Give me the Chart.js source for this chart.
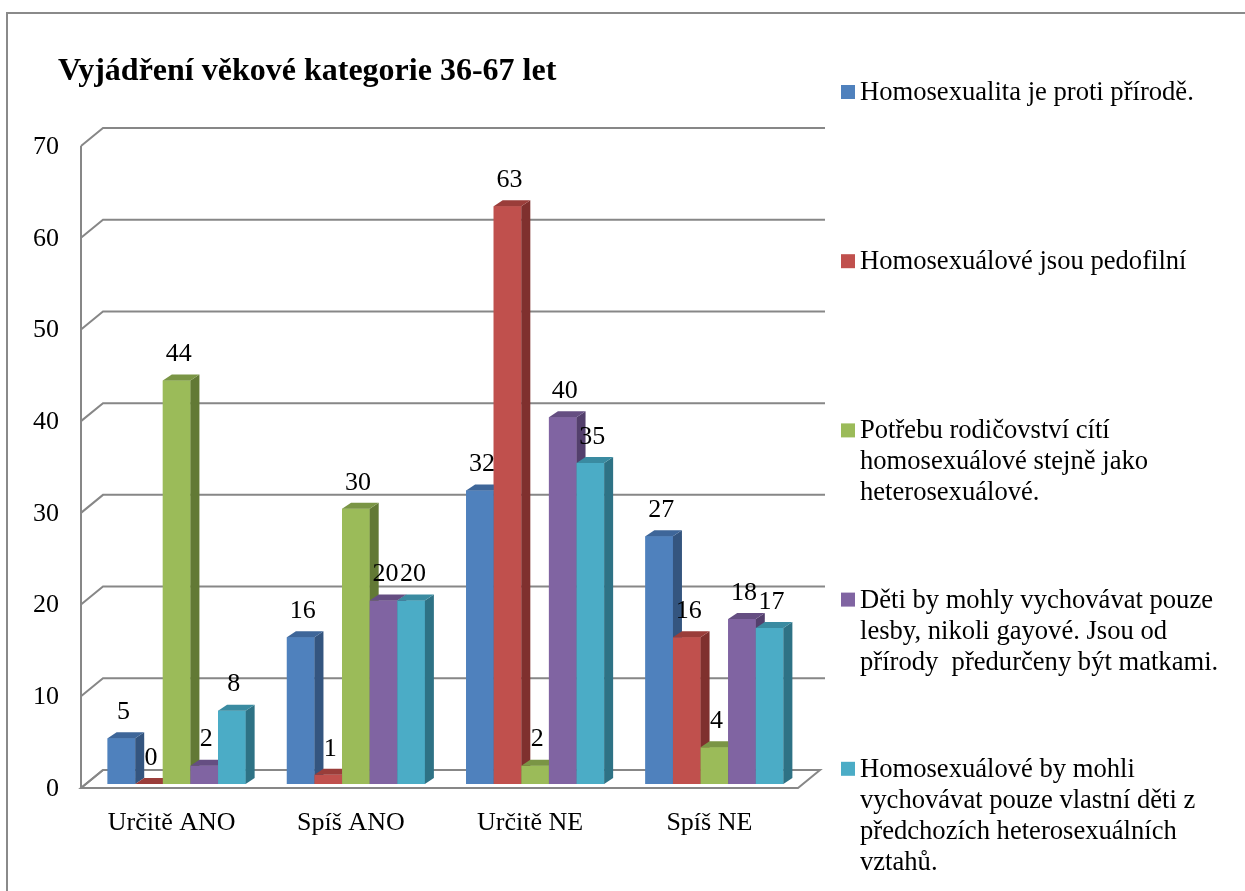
<!DOCTYPE html>
<html><head><meta charset="utf-8">
<script src="https://cdn.jsdelivr.net/npm/chart.js@4/dist/chart.umd.min.js"></script>
<style>html,body{margin:0;padding:0;background:#fff;}#wrap{width:1245px;height:891px;position:relative;}</style>
</head><body><div id="wrap"><canvas id="c" width="1245" height="891"></canvas></div>
<script>
const chartTitle = "Vyjádření věkové kategorie 36-67 let";
const categories = ["Určitě ANO", "Spíš ANO", "Určitě NE", "Spíš NE"];
const seriesNames = [
  "Homosexualita je proti přírodě.",
  "Homosexuálové jsou pedofilní",
  "Potřebu rodičovství cítí homosexuálové stejně jako heterosexuálové.",
  "Děti by mohly vychovávat pouze lesby, nikoli gayové. Jsou od přírody  předurčeny být matkami.",
  "Homosexuálové by mohli vychovávat pouze vlastní děti z předchozích heterosexuálních vztahů."
];
const legendLines = [
  ["Homosexualita je proti přírodě."],
  ["Homosexuálové jsou pedofilní"],
  ["Potřebu rodičovství cítí", "homosexuálové stejně jako", "heterosexuálové."],
  ["Děti by mohly vychovávat pouze", "lesby, nikoli gayové. Jsou od", "přírody  předurčeny být matkami."],
  ["Homosexuálové by mohli", "vychovávat pouze vlastní děti z", "předchozích heterosexuálních", "vztahů."]
];
const proti = [5, 16, 32, 27];
const pedofilni = [0, 1, 63, 16];
const rodicovstvi = [44, 30, 2, 4];
const lesby = [2, 20, 40, 18];
const vlastniDeti = [8, 20, 35, 17];
const yTicks = [0, 10, 20, 30, 40, 50, 60, 70];
const colors = ["#4F81BD", "#C0504D", "#9BBB59", "#8064A2", "#4BACC6"];
const topColors = ["#3E6699", "#9A3D3A", "#7A9545", "#654E82", "#3A8BA1"];
const sideColors = ["#34557F", "#7F302E", "#627935", "#533F6C", "#2E7285"];

const FONT = "'Liberation Serif', 'Times New Roman', serif";
const seriesValues = [proti, pedofilni, rodicovstvi, lesby, vlastniDeti];

const BAR_DX = 9, BAR_DY = -6;
const WALL_DX = 22, WALL_DY = -18;

const plugin3d = {
  id: 'plugin3d',
  beforeDraw(chart) {
    const ctx = chart.ctx;
    ctx.save();
    ctx.strokeStyle = '#8a8a8a';
    ctx.lineWidth = 2;
    ctx.beginPath();
    ctx.moveTo(7, 891); ctx.lineTo(7, 13); ctx.lineTo(1245, 13);
    ctx.stroke();
    ctx.fillStyle = '#000';
    ctx.font = "bold 32px " + FONT;
    ctx.textBaseline = 'middle';
    ctx.textAlign = 'left';
    ctx.fillText(chartTitle, 58, 72);
    ctx.restore();
  },
  beforeDatasetsDraw(chart) {
    const ctx = chart.ctx;
    const y = chart.scales.y;
    const a = chart.chartArea;
    const fl = a.left - 6, fr = a.right - 6;
    ctx.save();
    ctx.strokeStyle = '#878787';
    ctx.lineWidth = 2;
    const y0 = y.getPixelForValue(0) + 4;
    ctx.beginPath();
    ctx.moveTo(fl, y0);
    ctx.lineTo(fr, y0);
    ctx.lineTo(fr + WALL_DX, y0 + WALL_DY);
    ctx.lineTo(fl + WALL_DX, y0 + WALL_DY);
    ctx.closePath();
    ctx.fillStyle = '#fff';
    ctx.fill();
    ctx.stroke();
    yTicks.forEach(v => {
      const py = y.getPixelForValue(v) + 4;
      ctx.beginPath();
      ctx.moveTo(fl, py);
      ctx.lineTo(fl + WALL_DX, py + WALL_DY);
      if (v > 0) ctx.lineTo(fr + WALL_DX + 5, py + WALL_DY);
      ctx.stroke();
    });
    ctx.beginPath();
    ctx.moveTo(fl, y.getPixelForValue(70) + 4);
    ctx.lineTo(fl, y0);
    ctx.stroke();
    ctx.restore();
  },
  afterDatasetsDraw(chart) {
    const ctx = chart.ctx;
    const n = chart.data.labels.length;
    ctx.save();
    for (let j = 0; j < n; j++) {
      chart.data.datasets.forEach((ds, i) => {
        const el = chart.getDatasetMeta(i).data[j];
        el.draw(ctx, chart.chartArea);
        const p = el.getProps(['x', 'y', 'base', 'width'], true);
        const l = p.x - p.width / 2, r = p.x + p.width / 2;
        const top = Math.min(p.y, p.base), bot = Math.max(p.y, p.base);
        ctx.fillStyle = sideColors[i];
        ctx.beginPath();
        ctx.moveTo(r, top); ctx.lineTo(r + BAR_DX, top + BAR_DY);
        ctx.lineTo(r + BAR_DX, bot + BAR_DY); ctx.lineTo(r, bot);
        ctx.closePath(); ctx.fill();
        ctx.fillStyle = topColors[i];
        ctx.beginPath();
        ctx.moveTo(l, top); ctx.lineTo(l + BAR_DX, top + BAR_DY);
        ctx.lineTo(r + BAR_DX, top + BAR_DY); ctx.lineTo(r, top);
        ctx.closePath(); ctx.fill();
      });
    }
    ctx.fillStyle = '#000';
    ctx.font = "26px " + FONT;
    ctx.textAlign = 'center';
    ctx.textBaseline = 'middle';
    chart.data.datasets.forEach((ds, i) => {
      chart.getDatasetMeta(i).data.forEach((el, j) => {
        const p = el.getProps(['x', 'y'], true);
        ctx.fillText(String(ds.data[j]), p.x + 2, p.y - 26);
      });
    });
    ctx.restore();
  },
  afterDraw(chart) {
    const ctx = chart.ctx;
    ctx.save();
    ctx.font = "26.6px " + FONT;
    ctx.textAlign = 'left';
    ctx.textBaseline = 'middle';
    legendLines.forEach((lines, i) => {
      const yTop = 92 + i * 169.2;
      ctx.fillStyle = chart.data.datasets[i].backgroundColor;
      ctx.fillRect(841, yTop - 7, 14, 14);
      ctx.fillStyle = '#000';
      lines.forEach((t, k) => ctx.fillText(t, 860, yTop + 1 + k * 31));
    });
    ctx.restore();
  }
};

new Chart(document.getElementById('c'), {
  type: 'bar',
  data: {
    labels: categories,
    datasets: seriesValues.map((vals, i) => ({
      label: seriesNames[i],
      data: vals,
      backgroundColor: colors[i],
      borderWidth: 0,
      categoryPercentage: 0.77,
      barPercentage: 1.0
    }))
  },
  options: {
    responsive: false,
    animation: false,
    devicePixelRatio: 1,
    layout: { padding: { top: 142, right: 441, left: 0, bottom: 0 } },
    plugins: { legend: { display: false }, title: { display: false }, tooltip: { enabled: false } },
    scales: {
      x: {
        grid: { display: false, drawTicks: false },
        border: { display: false },
        ticks: { color: '#000', font: { family: FONT, size: 26 }, padding: 24, maxRotation: 0, labelOffset: -5 },
        afterFit(s) { s.height = 107; }
      },
      y: {
        min: 0, max: 70,
        afterBuildTicks(s) { s.ticks = yTicks.map(v => ({ value: v })); },
        grid: { display: false, drawTicks: false },
        border: { display: false },
        ticks: { color: '#000', font: { family: FONT, size: 26 }, padding: 28, labelOffset: 5 },
        afterFit(s) { s.width = 87; }
      }
    }
  },
  plugins: [plugin3d]
});
</script>
</body></html>
